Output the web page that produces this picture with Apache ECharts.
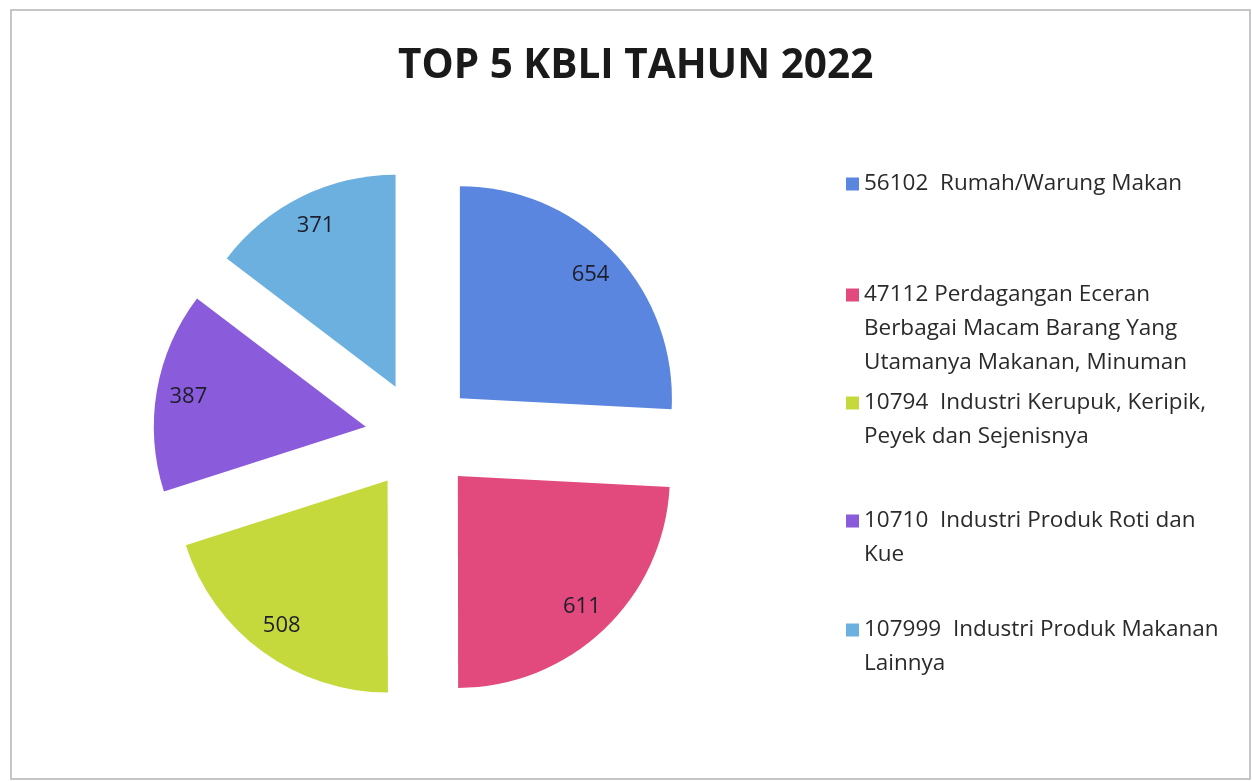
<!DOCTYPE html>
<html>
<head>
<meta charset="utf-8">
<title>TOP 5 KBLI TAHUN 2022</title>
<script src="https://cdn.jsdelivr.net/npm/echarts@6/dist/echarts.min.js"></script>
<style>
  html, body { margin: 0; padding: 0; background: #fff; }
  #main { width: 1252px; height: 781px; }
</style>
</head>
<body>
<div id="main"></div>
<script>
// data
const kbliNames = [
  '56102  Rumah/Warung Makan',
  '47112 Perdagangan Eceran\nBerbagai Macam Barang Yang\nUtamanya Makanan, Minuman',
  '10794  Industri Kerupuk, Keripik,\nPeyek dan Sejenisnya',
  '10710  Industri Produk Roti dan\nKue',
  '107999  Industri Produk Makanan\nLainnya'
]
const kbliValues = [654, 611, 508, 387, 371]
const kbliColors = ['#5a86e0', '#e2497c', '#c6d93c', '#8a5bdb', '#6cb0e0']

// legend placement (each item is its own legend so spacing can follow the original)
const legendIconY = [184, 295, 403, 521, 630]
const lineH = 34
const iconSize = 13
const font = '"Open Sans", Lato, sans-serif'

const pieCenter = [420, 436]
const pieRadius = 212
const explode = 55

const pieData = kbliNames.map((name, i) => ({
  name: name,
  value: kbliValues[i],
  selected: true,
  itemStyle: { color: kbliColors[i] }
}))

const labelData = kbliNames.map((name, i) => ({
  name: name,
  value: kbliValues[i],
  selected: true
}))

// legend text is always centred on the icon, so the icon box is made as tall as
// the text block and the visible square is drawn only at its top
const legends = kbliNames.map((name, i) => {
  const lines = name.split('\n').length
  const h = iconSize + (lines - 1) * lineH
  return {
    left: 846,
    top: legendIconY[i] - lineH / 2,
    padding: 0,
    itemWidth: iconSize,
    itemHeight: h,
    selectedMode: false,
    itemStyle: { borderWidth: 0 },
    data: [{
      name: name,
      icon: 'path://M0,0h' + iconSize + 'v' + iconSize + 'h-' + iconSize + 'zM0,' + h + 'h' + iconSize
    }],
    textStyle: {
      fontFamily: font,
      fontSize: 22.5,
      lineHeight: lineH,
      color: '#2a2a2a'
    }
  }
})

const option = {
  animation: false,
  backgroundColor: '#fff',
  title: {
    text: 'TOP 5 KBLI TAHUN 2022',
    left: 398,
    top: 46,
    padding: 0,
    textStyle: {
      fontFamily: font,
      fontSize: 40.5,
      fontWeight: 'bold',
      color: '#1a1a1a'
    }
  },
  legend: legends,
  graphic: [
    {
      type: 'rect',
      shape: { x: 11, y: 10, width: 1239, height: 769 },
      style: { fill: 'none', stroke: '#b4b4b8', lineWidth: 1.5 },
      silent: true
    }
  ],
  series: [
    {
      type: 'pie',
      center: pieCenter,
      radius: [0, pieRadius],
      startAngle: 90,
      selectedMode: 'multiple',
      selectedOffset: explode,
      label: { show: false },
      labelLine: { show: false },
      emphasis: { disabled: true },
      select: { itemStyle: { borderWidth: 0 } },
      data: pieData
    },
    {
      // transparent ring, only here to put the value labels near the rim
      type: 'pie',
      center: pieCenter,
      radius: [142, pieRadius],
      startAngle: 90,
      selectedMode: 'multiple',
      selectedOffset: explode,
      silent: true,
      itemStyle: { color: 'rgba(0,0,0,0)' },
      select: { itemStyle: { color: 'rgba(0,0,0,0)', borderWidth: 0 } },
      emphasis: { disabled: true },
      labelLine: { show: false },
      label: {
        show: true,
        position: 'inside',
        rotate: 0,
        formatter: '{c}',
        fontFamily: font,
        fontSize: 22,
        color: '#1e1e2a'
      },
      data: labelData
    }
  ]
}

const chart = echarts.init(document.getElementById('main'))
chart.setOption(option)
</script>
</body>
</html>
